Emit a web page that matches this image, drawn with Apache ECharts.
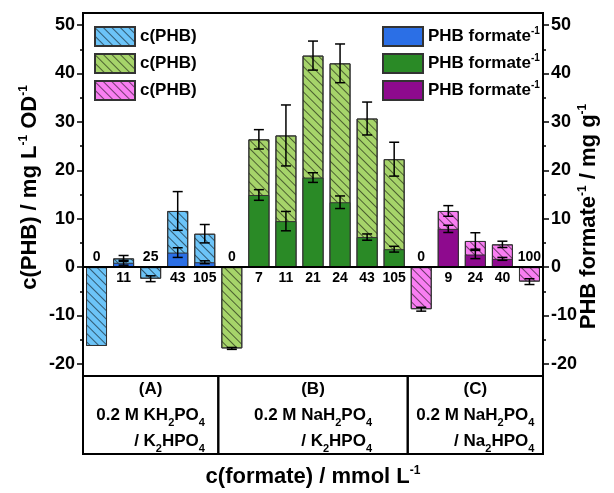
<!DOCTYPE html>
<html>
<head>
<meta charset="utf-8">
<script src="https://cdn.jsdelivr.net/npm/echarts@6/dist/echarts.min.js"></script>
<style>
  html, body { margin: 0; padding: 0; background: #fff; overflow: hidden; }
  #chart { width: 614px; height: 493px; }
</style>
</head>
<body>
<div id="chart"></div>
<script>
const FONT = 'Liberation Sans, Arial, sans-serif';

// formate concentration (mmol/L) of each bar, per buffer system
const formateA = ['0', '11', '25', '43', '105'];
const formateB = ['0', '7', '11', '21', '24', '43', '105'];
const formateC = ['0', '9', '24', '40', '100'];

// c(PHB) / mg L-1 OD-1 (hatched) with error
const phbA = [-16.3, 1.8, -2.4, 11.6, 6.9];
const phbErrA = [0, 0.6, 0.6, 4.0, 1.9];
const phbB = [-16.8, 26.4, 27.2, 43.7, 42.1, 30.7, 22.3];
const phbErrB = [0.2, 2.0, 6.3, 3.0, 4.0, 3.4, 3.5];
const phbC = [-8.7, 11.6, 5.4, 4.7, -3.0];
const phbErrC = [0.4, 1.1, 1.7, 0.65, 0.6];

// PHB formate-1 / mg g-1 (solid) with error
const yieldA = [0, 0.9, 0, 3.0, 1.0];
const yieldErrA = [0, 0.5, 0, 1.0, 0.3];
const yieldB = [0, 14.9, 9.5, 18.5, 13.4, 6.2, 3.7];
const yieldErrB = [0, 1.1, 2.0, 1.0, 1.3, 0.65, 0.6];
const yieldC = [0, 7.9, 2.6, 1.7, 0];
const yieldErrC = [0, 0.75, 0.85, 0.3, 0];

// buffer table under the plot
const groupTitles = ['(A)', '(B)', '(C)'];
const acidSalts = ['KH2PO4', 'NaH2PO4', 'NaH2PO4'];
const baseSalts = ['K2HPO4', 'K2HPO4', 'Na2HPO4'];

const yTicks = [-20, -10, 0, 10, 20, 30, 40, 50];
const yMinorTicks = [-15, -5, 5, 15, 25, 35, 45];
const Y_MIN = -22.5, Y_MAX = 52.5;

const hatchColors = ['#6cc4f8', '#a6d46a', '#f97ef2'];
const solidColors = ['#2b6fe6', '#2a8a26', '#8e0a8e'];

const groups = [
  { formate: formateA, phb: phbA, phbErr: phbErrA, y: yieldA, yErr: yieldErrA },
  { formate: formateB, phb: phbB, phbErr: phbErrB, y: yieldB, yErr: yieldErrB },
  { formate: formateC, phb: phbC, phbErr: phbErrC, y: yieldC, yErr: yieldErrC }
];

const labels = [].concat(formateA, formateB, formateC);
const categories = labels.map((_, i) => String(i));
const n = labels.length;

const decal = {
  symbol: 'rect',
  symbolSize: 1,
  color: 'rgba(0,0,0,0.55)',
  dashArrayX: [1, 0],
  dashArrayY: [1, 5],
  rotation: Math.PI / 4
};

// subscript digits in a chemical formula as rich text
function chem(s, main, sub) {
  return s.split(/(\d+)/).filter(p => p).map(p =>
    /^\d+$/.test(p) ? '{' + sub + '|' + p + '}' : '{' + main + '|' + p + '}'
  ).join('');
}

const series = [];
const errData = [];
const labelData = [];
const tableData = [];
let offset = 0;
const hatchNames = [], solidNames = [];

groups.forEach((g, gi) => {
  const hatch = new Array(n).fill('-');
  const solid = new Array(n).fill('-');
  g.phb.forEach((v, i) => {
    hatch[offset + i] = v;
    if (g.phbErr[i]) errData.push([offset + i, v, g.phbErr[i]]);
    labelData.push([offset + i, 0, v]);
  });
  g.y.forEach((v, i) => {
    if (v) solid[offset + i] = v;
    if (g.yErr[i]) errData.push([offset + i, v, g.yErr[i]]);
  });
  tableData.push([offset, Y_MIN, offset + g.phb.length - 1, gi]);
  offset += g.phb.length;

  const hn = 'c(PHB) ' + 'ABC'[gi];
  const sn = 'PHB formate ' + 'ABC'[gi];
  hatchNames.push(hn);
  solidNames.push(sn);
  series.push({
    name: hn, type: 'bar', data: hatch, barWidth: 21, barGap: '-100%',
    itemStyle: { color: hatchColors[gi], borderColor: '#333', borderWidth: 1, decal: decal },
    z: 2
  });
  series.push({
    name: sn, type: 'bar', data: solid, barWidth: 21, barGap: '-100%',
    itemStyle: { color: solidColors[gi], borderColor: '#333', borderWidth: 1 },
    z: 3
  });
});

// zero line
series[0].markLine = {
  silent: true, symbol: ['none', 'none'], label: { show: false },
  lineStyle: { color: '#000', width: 2, type: 'solid' },
  data: [{ yAxis: 0 }]
};

series.push({
  type: 'custom', name: 'err', z: 5, data: errData,
  encode: { x: 0, y: 1 },
  renderItem: function (params, api) {
    const i = api.value(0), v = api.value(1), e = api.value(2);
    const top = api.coord([i, v + e]);
    const bot = api.coord([i, v - e]);
    const w = 5;
    const st = { stroke: '#000', lineWidth: 1.5 };
    return {
      type: 'group', children: [
        { type: 'line', shape: { x1: top[0], y1: top[1], x2: bot[0], y2: bot[1] }, style: st },
        { type: 'line', shape: { x1: top[0] - w, y1: top[1], x2: top[0] + w, y2: top[1] }, style: st },
        { type: 'line', shape: { x1: bot[0] - w, y1: bot[1], x2: bot[0] + w, y2: bot[1] }, style: st }
      ]
    };
  }
});

series.push({
  type: 'custom', name: 'labels', z: 6, data: labelData,
  encode: { x: 0, y: 1 },
  renderItem: function (params, api) {
    const p = api.coord([api.value(0), 0]);
    const up = api.value(2) < 0;
    return {
      type: 'text',
      style: {
        text: labels[params.dataIndex], x: p[0], y: up ? p[1] - 3 : p[1] + 4,
        align: 'center', verticalAlign: up ? 'bottom' : 'top',
        fontFamily: FONT, fontWeight: 'bold', fontSize: 14, fill: '#000'
      }
    };
  }
});

series.push({
  type: 'custom', name: 'table', clip: false, z: 6, data: tableData,
  encode: { x: 0, y: 1 },
  renderItem: function (params, api) {
    const s = api.value(0), e = api.value(2), gi = api.value(3);
    const band = api.size([1, 0])[0];
    const p0 = api.coord([s, Y_MIN]);
    const left = p0[0] - band / 2;
    const right = api.coord([e, Y_MIN])[0] + band / 2;
    const top = p0[1];
    const h = 78;
    const txt = '{t|' + groupTitles[gi] + '}\n{n|0.2 M }' + chem(acidSalts[gi], 'n', 'ns') +
      '\n{r|/ }' + chem(baseSalts[gi], 'r', 'rs');
    const base = { fontFamily: FONT, fontWeight: 'bold', fontSize: 17, lineHeight: 26, fill: '#000' };
    const sub = { fontFamily: FONT, fontWeight: 'bold', fontSize: 11, lineHeight: 15, verticalAlign: 'bottom', fill: '#000' };
    return {
      type: 'group', children: [
        { type: 'rect', shape: { x: left, y: top, width: right - left, height: h },
          style: { fill: 'none', stroke: '#000', lineWidth: 2 } },
        { type: 'text', style: {
            text: txt, x: (left + right) / 2, y: top + h / 2, align: 'center', verticalAlign: 'middle',
            rich: {
              t: Object.assign({ align: 'center' }, base),
              n: Object.assign({}, base),
              ns: Object.assign({}, sub),
              r: Object.assign({ align: 'right' }, base),
              rs: Object.assign({ align: 'right' }, sub)
            }
          } }
      ]
    };
  }
});

const nameRich = {
  m: { fontFamily: FONT, fontWeight: 'bold', fontSize: 22, lineHeight: 24, color: '#000' },
  s: { fontFamily: FONT, fontWeight: 'bold', fontSize: 12, lineHeight: 12, verticalAlign: 'top', color: '#000' }
};
const legendRich = {
  m: { fontFamily: FONT, fontWeight: 'bold', fontSize: 17, lineHeight: 20, color: '#000' },
  s: { fontFamily: FONT, fontWeight: 'bold', fontSize: 10, lineHeight: 10, verticalAlign: 'top', color: '#000' }
};

function yAxis(pos, main) {
  const ax = {
    type: 'value', position: pos, min: Y_MIN, max: Y_MAX,
    splitLine: { show: false },
    axisLine: { show: main, lineStyle: { color: '#000', width: 2 } },
    axisTick: { show: true, length: main ? 6 : 3, customValues: main ? yTicks : yMinorTicks,
      lineStyle: { color: '#000', width: 1.5 } },
    axisLabel: { show: main, customValues: yTicks, margin: 8, color: '#000',
      fontFamily: FONT, fontWeight: 'bold', fontSize: 18 }
  };
  if (main) {
    ax.nameLocation = 'middle';
    ax.nameMoveOverlap = false;
    if (pos === 'left') {
      ax.name = '{m|c(PHB) / mg L}{s|-1}{m| OD}{s|-1}';
      ax.nameGap = 41;
      ax.nameTextStyle = { rich: nameRich, padding: [0, 0, 0, 14] };
    } else {
      ax.name = '{m|PHB formate}{s|-1}{m| / mg g}{s|-1}';
      ax.nameGap = 34;
      ax.nameTextStyle = { rich: nameRich, padding: [0, 44, 0, 0] };
    }
  }
  return ax;
}

const option = {
  animation: false,
  backgroundColor: '#fff',
  grid: { left: 83, right: 71, top: 13, bottom: 107, show: true, borderColor: '#000', borderWidth: 2 },
  xAxis: {
    type: 'category', data: categories,
    axisLine: { show: false, onZero: false },
    axisTick: { show: false }, axisLabel: { show: false },
    name: '{m|c(formate) / mmol L}{s|-1}', nameLocation: 'middle', nameGap: 89,
    nameMoveOverlap: false,
    nameTextStyle: { rich: nameRich }
  },
  yAxis: [yAxis('left', true), yAxis('left', false), yAxis('right', true), yAxis('right', false)],
  legend: [
    {
      data: hatchNames, orient: 'vertical', left: 89, top: 21, icon: 'rect',
      itemWidth: 40, itemHeight: 19, itemGap: 6, selectedMode: false,
      formatter: () => '{m|c(PHB)}', textStyle: { rich: legendRich }
    },
    {
      data: solidNames, orient: 'vertical', left: 377, top: 21, icon: 'rect',
      itemWidth: 40, itemHeight: 19, itemGap: 6, selectedMode: false,
      formatter: () => '{m|PHB formate}{s|-1}', textStyle: { rich: legendRich }
    }
  ],
  series: series
};

const chart = echarts.init(document.getElementById('chart'), null, { renderer: 'canvas' });
chart.setOption(option);
</script>
</body>
</html>
